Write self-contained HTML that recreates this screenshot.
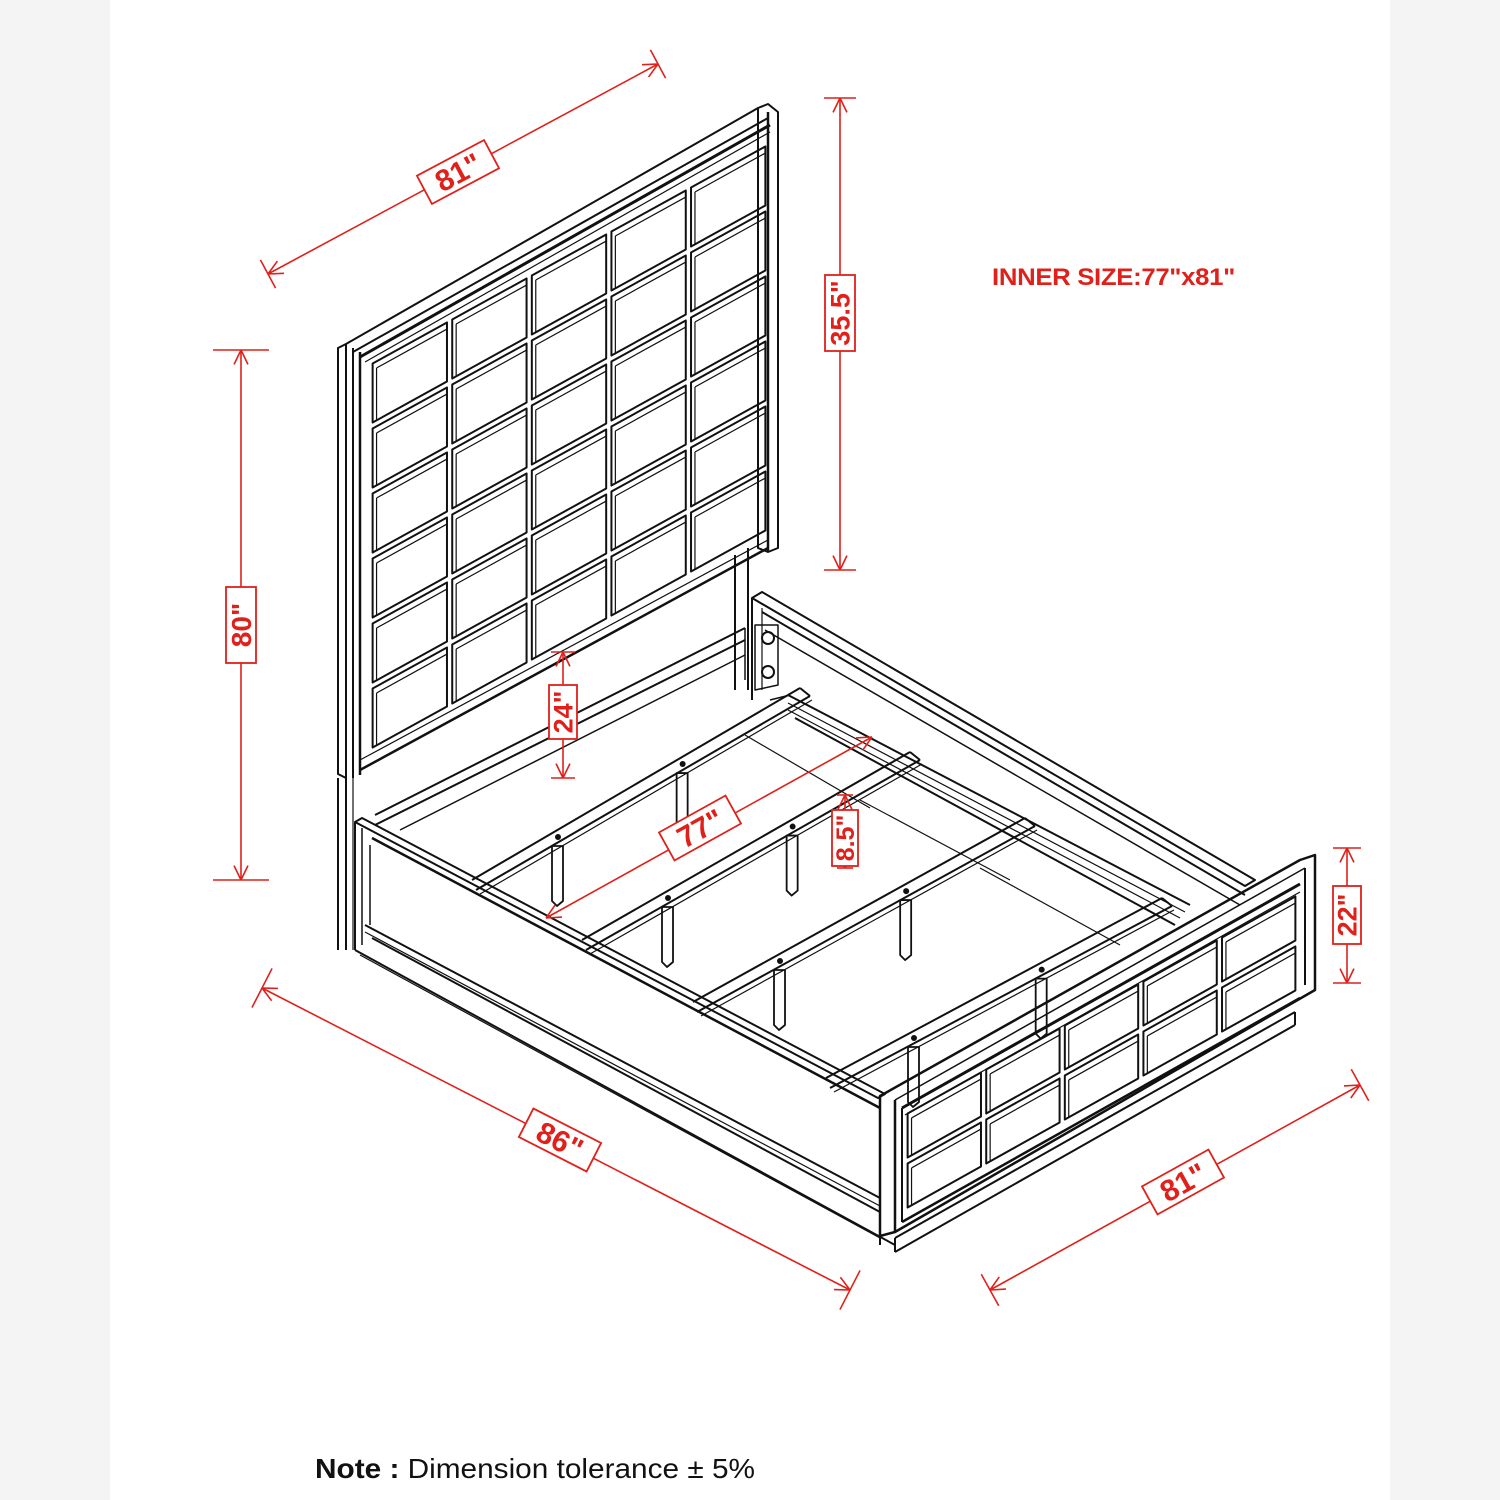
<!DOCTYPE html>
<html><head><meta charset="utf-8"><style>
html,body{margin:0;padding:0;background:#f4f4f4;}
#wrap{position:relative;width:1500px;height:1500px;overflow:hidden;background:#f4f4f4;}
#paper{position:absolute;left:110px;top:0;width:1280px;height:1500px;background:#fff;}
svg{position:absolute;left:0;top:0;}
.r{font-family:"Liberation Sans",sans-serif;fill:#e0201a;}
</style></head><body><div id="wrap"><div id="paper"></div>
<svg id="s" width="1500" height="1500" viewBox="0 0 1500 1500">
<g id="bed" fill="none" stroke="#111" stroke-width="2" stroke-linejoin="round"></g>
<g id="dim" fill="none" stroke="#e0201a" stroke-width="1.6"></g>
<g id="lbl"></g>
<text class="r" x="992" y="285" font-size="24" font-weight="bold" letter-spacing="-0.3" textLength="243" lengthAdjust="spacingAndGlyphs">INNER SIZE:77"x81"</text>
<text x="315" y="1478" font-family="Liberation Sans, sans-serif" font-size="28" fill="#111" textLength="440" lengthAdjust="spacingAndGlyphs"><tspan font-weight="bold">Note :</tspan> Dimension tolerance ± 5%</text>
</svg></div>
<script>
var NS="http://www.w3.org/2000/svg";
var bed=document.getElementById('bed'),dim=document.getElementById('dim'),lbl=document.getElementById('lbl');
function el(p,t,a){var e=document.createElementNS(NS,t);for(var k in a)e.setAttribute(k,a[k]);p.appendChild(e);return e;}
function L(x1,y1,x2,y2,w,g){el(g||bed,'line',{x1:x1,y1:y1,x2:x2,y2:y2,'stroke-width':w||2});}
function P(pts,w,g,fill){el(g||bed,'polygon',{points:pts.map(function(p){return p[0]+','+p[1]}).join(' '),'stroke-width':w||2,fill:fill||'none'});}
function lerp(a,b,t){return [a[0]+(b[0]-a[0])*t,a[1]+(b[1]-a[1])*t];}
function grid(TL,TR,BL,cols,rows,ins){
  function Q(u,v){return [TL[0]+u*(TR[0]-TL[0])+v*(BL[0]-TL[0]),TL[1]+u*(TR[1]-TL[1])+v*(BL[1]-TL[1])];}
  for(var i=0;i<cols;i++)for(var j=0;j<rows;j++){
    var du=ins/ Math.hypot(TR[0]-TL[0],TR[1]-TL[1]), dv=ins/Math.hypot(BL[0]-TL[0],BL[1]-TL[1]);
    var u0=i/cols+du,u1=(i+1)/cols-du,v0=j/rows+dv,v1=(j+1)/rows-dv;
    P([Q(u0,v0),Q(u1,v0),Q(u1,v1),Q(u0,v1)],2);
    var a=Q(u0+du*1.5,v0+dv*2.2),b=Q(u1,v0+dv*2.2),c=Q(u0+du*1.5,v1);
    L(a[0],a[1],b[0],b[1],1.2);L(a[0],a[1],c[0],c[1],1.2);
  }
}
P([[338,348],[346,344],[346,778],[338,774]],2);
L(353,348,353,778,2);L(360,352,360,775,2.5);
P([[758,108],[768,104],[778,112],[778,548],[768,552],[758,548]],2);
L(768,112,768,552,2.5);
L(346,344,758,108,2);L(353,352,768,118,2);L(360,357,770,125,3);L(365,362,770,132,1.2);
L(360,770,768,548,2.5);L(360,760,768,540,1.2);
grid([370,362],[768,142],[370,752],5,6,3);
L(338,778,338,950,2);L(346,778,346,950,2);L(353,778,353,950,1.2);
L(735,555,735,690,2);L(748,548,748,690,2);
L(375,815,745,628,2);L(375,825,745,640,2);L(400,830,745,655,1.5);
L(745,628,745,680,1.5);
P([[752,598],[762,592],[1255,880],[1245,886]],2);
L(752,598,752,700,2);L(762,608,762,690,1.2);
L(762,612,1245,895,2);L(765,630,1240,905,1.5);
el(bed,'circle',{cx:768,cy:638,r:6});el(bed,'circle',{cx:768,cy:672,r:6});
P([[755,625],[778,625],[778,685],[755,690]],1.5);
L(788,695,1190,905,2);L(788,703,1185,912,1.2);L(788,710,1180,918,1.2);L(795,718,1175,925,2);
L(770,700,790,695,1.5);
L(745,735,870,808,1.2);L(860,800,1010,880,1.2);L(980,868,1120,945,1.2);
function slat(x1,y1,x2,y2,legs){
  L(x1,y1,x2,y2,2);L(x1+4,y1+10,x2+10,y2+8,2);L(x1+8,y1+14,x2+12,y2+12,1.2);
  L(x2,y2,x2+10,y2+8,2);
  legs.forEach(function(t){var p=lerp([x1,y1],[x2,y2],t);
    el(bed,'circle',{cx:p[0]+4,cy:p[1]+5,r:3,fill:'#111','stroke-width':0});
    var y0=p[1]+14;P([[p[0]-2,y0],[p[0]-2,y0+55],[p[0]+3,y0+60],[p[0]+9,y0+55],[p[0]+9,y0]],1.8);});
}
slat(472,880,800,688,[0.25,0.63]);
slat(582,940,910,752,[0.25,0.63]);
slat(693,1002,1025,818,[0.25,0.63]);
slat(826,1078,1162,898,[0.25,0.63]);
P([[355,822],[362,818],[885,1094],[878,1098]],2);
L(355,822,355,950,2);L(362,828,362,945,1.5);
L(372,838,880,1108,2.5);L(370,845,370,925,1.5);
L(365,925,880,1198,2);L(365,932,880,1206,1.2);L(372,938,880,1212,2);
L(355,950,895,1245,2);L(360,955,880,1238,1.2);
P([[880,1096],[1300,860],[1315,855],[1315,990],[895,1232],[880,1236]],2.5);
L(895,1100,1305,868,1.5);L(895,1100,895,1232,2.5);L(1305,868,1305,985,2);
L(902,1108,1300,884,3);L(905,1115,1300,892,1.2);
L(902,1108,902,1222,2);L(902,1222,1300,998,2.5);
grid([905,1112],[1298,892],[905,1212],5,2,3);
L(895,1238,1295,1012,2);L(895,1238,895,1252,2);L(895,1252,1295,1025,2);L(1295,1012,1295,1025,2);
L(880,1236,880,1245,2);
function arrow(x,y,ang){var a=0.45,l=16;
  L(x,y,x+l*Math.cos(ang+a),y+l*Math.sin(ang+a),1.6,dim);L(x,y,x+l*Math.cos(ang-a),y+l*Math.sin(ang-a),1.6,dim);}
function dline(x1,y1,x2,y2,ext){
  L(x1,y1,x2,y2,1.6,dim);var ang=Math.atan2(y2-y1,x2-x1);
  arrow(x1,y1,ang);arrow(x2,y2,ang+Math.PI);
  var nx=-Math.sin(ang)*ext,ny=Math.cos(ang)*ext;
  L(x1-nx,y1-ny,x1+nx,y1+ny,1.6,dim);L(x2-nx,y2-ny,x2+nx,y2+ny,1.6,dim);}
function label(x,y,rot,t,w,h,fs){
  var g=el(lbl,'g',{transform:'translate('+x+','+y+') rotate('+rot+')'});
  el(g,'rect',{x:-w/2,y:-h/2,width:w,height:h,fill:'#fff',stroke:'#e0201a','stroke-width':1.8});
  var tx=el(g,'text',{x:0,y:fs*0.36,'text-anchor':'middle','font-size':fs,'font-weight':'bold','class':'r'});tx.textContent=t;}
dline(268,274,658,64,16); label(458,172,-28,'81"',76,32,30);
dline(840,98,840,570,16); label(840,313,-90,'35.5"',76,30,27);
dline(241,350,241,880,28); label(241,625,-90,'80"',76,30,28);
dline(563,652,563,778,12); label(563,712,-90,'24"',54,28,27);
dline(546,918,872,737,0); label(700,828,-29,'77"',76,32,30);
dline(845,795,845,868,8); label(845,838,-90,'8.5"',56,26,25);
dline(1347,848,1347,983,14); label(1347,915,-90,'22"',58,28,27);
dline(262,988,850,1290,22); label(560,1140,27,'86"',76,32,30);
dline(990,1290,1360,1085,18); label(1183,1182,-29,'81"',76,32,30);
</script>
</body></html>
